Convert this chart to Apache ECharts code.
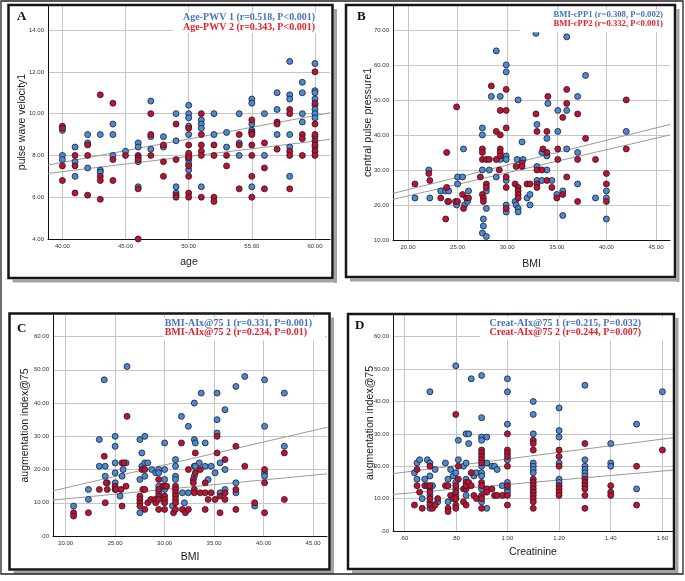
<!DOCTYPE html>
<html><head><meta charset="utf-8">
<script src="https://cdn.jsdelivr.net/npm/echarts@6/dist/echarts.min.js"></script>
<style>html,body{margin:0;padding:0;background:#fff}#c{width:685px;height:581px}</style>
</head><body><div id="c"></div>
<script>
// ---------- tick labels ----------
const ticksA_x = [40, 45, 50, 55, 60];
const ticksA_y = [4, 6, 8, 10, 12, 14];
const ticksB_x = [20, 25, 30, 35, 40, 45];
const ticksB_y = [10, 20, 30, 40, 50, 60, 70];
const ticksC_x = [20, 25, 30, 35, 40, 45];
const ticksC_y = [0, 10, 20, 30, 40, 50, 60];
const ticksD_x = [0.6, 0.8, 1.0, 1.2, 1.4, 1.6];
const ticksD_y = [0, 10, 20, 30, 40, 50, 60];

// ---------- Panel A: age vs PWV ----------
const A_pwv1 = [
[40,9.2],[40,8.0],[40,7.8],[41,8.4],[41,7.7],[41,7.0],[42,9.0],[42,8.6],[42,7.4],
[43,9.0],[43,7.3],[43,7.2],[44,9.5],[44,9.0],[44,8.0],[45,8.2],
[46,8.6],[46,8.4],[46,7.7],[46,6.5],[47,10.6],[47,8.9],[47,8.3],[48,8.9],[48,8.4],
[49,10.0],[49,8.7],[49,6.5],[49,6.2],
[50,10.4],[50,10.0],[50,9.8],[50,9.4],[50,9.0],[50,8.0],[50,7.9],[50,7.8],[50,7.6],[50,7.3],
[51,9.7],[51,9.5],[51,9.3],[51,6.5],[52,10.0],[52,9.0],[53,9.1],[53,8.4],
[54,10.0],[54,8.6],[54,8.0],[55,10.7],[55,10.5],[55,9.5],[55,9.2],[55,9.1],[55,6.5],
[56,10.0],[56,8.0],[57,11.0],[57,10.2],[57,9.0],
[58,12.5],[58,10.9],[58,10.7],[58,9.0],[58,8.4],[58,7.0],
[59,11.5],[59,11.0],[59,10.0],[59,9.6],
[60,12.4],[60,11.1],[60,11.0],[60,10.7],[60,10.4],[60,10.2],[60,10.0],[60,9.8],[60,8.9],[60,8.4]
];
const A_pwv2 = [
[40,9.4],[40,9.3],[40,7.5],[40,6.8],[41,8.0],[41,7.5],[41,6.2],[42,8.5],[42,8.0],[42,6.1],
[43,10.9],[43,7.0],[43,6.8],[43,5.9],[44,10.5],[44,7.8],[44,6.8],[45,8.0],
[46,8.0],[46,7.9],[46,7.8],[46,6.4],[46,4.0],[47,10.0],[47,9.0],[47,8.0],[48,8.5],[48,7.7],[48,7.0],
[49,9.5],[49,7.8],[49,6.1],[49,6.0],
[50,9.3],[50,8.5],[50,8.1],[50,7.9],[50,7.5],[50,7.0],[50,6.2],[50,6.0],
[51,10.0],[51,9.0],[51,8.5],[51,8.2],[51,8.0],[51,6.0],[52,8.5],[52,8.0],[52,6.0],[52,5.8],
[53,8.0],[53,7.5],[54,9.0],[54,8.5],[54,6.4],
[55,9.7],[55,9.1],[55,9.0],[55,8.5],[55,8.0],[55,7.0],[55,6.0],[56,8.6],[56,7.4],[56,6.4],
[57,9.6],[57,9.5],[57,8.3],[58,10.2],[58,10.0],[58,8.2],[58,8.0],[58,6.4],
[59,9.0],[59,8.8],[59,8.0],
[60,12.0],[60,10.5],[60,9.5],[60,9.0],[60,8.7],[60,8.5],[60,8.2],[60,8.0]
];
const A_fit1 = [[38.86,7.54],[61.19,10.04]];
const A_fit2 = [[38.86,7.14],[61.19,8.77]];

// ---------- Panel B: BMI vs cPP ----------
const B_cpp1 = [
[20.7,22],[22.1,30],[22.2,22],[23.3,24],[23.8,24],[24.1,24],[24.0,21],[25.0,28],[25.0,26],[24.9,20],
[25.5,28],[25.6,36],[25.7,20],[26.0,21],[26.1,24],[27.5,42],[27.5,40],[27.5,30],[27.6,16],[27.6,14],
[27.5,12],[27.9,11],[27.9,19],[27.9,24],[28.2,30],[28.4,51],[28.9,28],[28.9,64],[29.3,51],[29.3,33],
[29.9,60],[29.9,58],[29.9,34],[29.9,33],[29.9,27],[29.9,20],[29.9,18],[31.1,50],[31.0,33],[30.8,21],
[30.9,20],[31.1,19],[31.1,18],[31.5,38],[31.6,33],[32.0,22],[32.3,23],[32.3,20],[32.9,69],[33.0,43],
[33.0,31],[33.0,27],[33.5,27],[33.5,35],[34.0,39],[34.0,34],[34.0,30],[34.1,49],[34.5,27],[35.1,47],
[35.1,41],[35.0,23],[35.6,24],[35.6,17],[36.0,68],[36.0,47],[36.0,36],[37.1,51],[37.1,35],[37.1,26],
[37.9,57],[38.9,22],[40.0,24],[40.0,22],[40.0,16],[42.0,41]
];
const B_cpp2 = [
[20.7,26],[22.1,29],[22.2,27],[23.3,22],[23.9,35],[23.9,25],[23.8,16],[24.1,21],[24.9,48],[24.8,21],
[25.0,21],[25.5,23],[25.6,19],[25.9,22],[26.1,22],[27.3,28],[27.5,36],[27.5,35],[27.5,33],[27.5,23],
[27.6,22],[27.6,21],[27.9,26],[27.9,25],[27.9,33],[28.2,33],[28.4,54],[28.9,41],[28.9,33],[29.3,47],
[29.3,40],[29.3,36],[29.3,35],[29.3,34],[29.2,30],[29.9,53],[29.9,47],[29.9,42],[29.9,28],[29.9,25],
[29.9,19],[30.9,31],[30.8,26],[31.1,25],[31.1,24],[31.1,23],[31.1,22],[31.5,32],[31.5,31],[32.0,26],
[32.3,26],[32.9,46],[33.0,41],[33.0,30],[33.0,26],[33.0,25],[33.6,36],[33.5,30],[34.0,41],[34.0,35],
[34.0,27],[34.1,51],[34.5,25],[35.1,36],[35.1,33],[35.0,22],[35.6,45],[35.6,23],[36.0,53],[36.0,49],
[36.0,28],[37.1,46],[37.1,33],[37.1,21],[37.9,39],[38.9,33],[40.0,29],[40.0,26],[40.0,21],[42.0,50],[42.0,36]
];
const B_fit1 = [[18.49,23.3],[46.41,43.0]];
const B_fit2 = [[18.49,21.6],[46.41,40.0]];

// ---------- Panel C: BMI vs AIx@75 ----------
const C_aix1 = [
[20.8,9],[22.3,14],[22.3,11],[23.4,29],[23.4,21],[23.9,47],[24.0,21],[24.0,18],[24.2,16],[25.0,27],
[25.0,30],[25.0,22],[25.0,19],[25.0,16],[25.5,12],[25.7,18],[25.8,20],[26.1,22],[26.2,51],[27.5,29],
[27.5,17],[27.5,7],[27.7,25],[27.7,21],[28.0,30],[28.0,22],[28.3,22],[28.0,18],[28.7,20],[29.1,19],
[29.4,20],[29.4,19],[29.4,15],[29.4,13],[30.0,28],[30.0,20],[30.0,17],[30.0,14],[30.8,9],[31.1,23],
[31.1,21],[31.1,18],[31.1,17],[31.7,36],[31.8,13],[32.0,10],[32.4,33],[32.4,13],[33.0,40],[33.0,29],
[33.1,28],[33.0,21],[33.1,21],[33.0,18],[33.7,43],[33.5,22],[34.1,28],[34.1,21],[34.4,17],[34.7,21],
[35.1,19],[35.3,43],[35.3,35],[35.3,31],[35.6,22],[35.6,13],[36.1,38],[36.1,20],[36.1,14],[37.2,45],
[37.2,16],[37.2,13],[38.1,48],[39.1,9],[40.1,47],[40.1,33],[40.1,19],[40.1,18],[42.1,43],[42.1,27]
];
const C_aix2 = [
[20.8,7],[20.8,6],[22.3,7],[23.4,14],[23.9,24],[24.1,16],[24.0,10],[24.2,14],[25.0,15],[25.0,14],
[25.1,14],[25.6,14],[25.7,9],[25.7,22],[25.9,22],[26.1,15],[26.2,36],[27.5,12],[27.5,11],[27.5,10],
[27.5,9],[27.7,20],[27.8,14],[28.0,20],[28.0,14],[28.0,8],[28.3,10],[28.6,11],[29.0,11],[29.1,10],
[29.4,17],[29.4,14],[29.4,12],[29.4,11],[29.4,8],[29.8,15],[30.0,15],[30.0,12],[30.0,11],[30.0,10],
[30.0,8],[30.2,15],[30.9,7],[31.1,15],[31.1,14],[31.1,13],[31.1,12],[31.1,11],[31.1,10],[31.1,8],
[31.7,28],[31.8,8],[32.1,7],[32.4,20],[32.4,8],[33.1,25],[33.1,19],[32.9,17],[32.9,16],[33.0,14],
[33.0,13],[33.6,20],[33.6,13],[34.1,16],[34.1,13],[34.1,8],[34.4,11],[34.7,13],[35.1,11],[35.3,30],
[35.3,25],[35.6,12],[35.6,7],[36.1,23],[36.1,13],[36.1,11],[37.2,27],[37.2,14],[37.2,8],[38.1,21],
[39.1,10],[40.1,20],[40.1,16],[40.1,7],[42.1,25],[42.1,11]
];
const C_fit1 = [[18.72,13.6],[46.41,32.7]];
const C_fit2 = [[18.72,10.8],[46.41,18.7]];

// ---------- Panel D: Creatinine vs AIx@75 ----------
const D_aix1 = [
[0.64,18],[0.65,21],[0.65,16],[0.66,22],[0.67,10],[0.68,16],[0.69,22],[0.70,43],[0.70,21],[0.70,17],
[0.70,13],[0.70,11],[0.70,9],[0.70,7],[0.71,14],[0.72,19],[0.73,9],[0.76,21],[0.77,16],[0.77,9],
[0.78,19],[0.79,17],[0.80,51],[0.80,18],[0.80,15],[0.80,13],[0.80,11],[0.80,10],[0.81,28],[0.81,22],
[0.83,20],[0.84,11],[0.84,21],[0.84,30],[0.85,30],[0.85,27],[0.84,16],[0.86,47],[0.87,17],[0.88,18],
[0.90,48],[0.90,35],[0.90,29],[0.90,28],[0.90,20],[0.90,18],[0.90,17],[0.90,13],[0.90,9],[0.92,29],
[0.92,21],[0.92,7],[0.94,20],[0.95,20],[0.96,19],[0.98,14],[1.0,47],[1.0,43],[1.0,33],[1.0,22],
[1.0,15],[1.0,13],[1.0,12],[1.1,40],[1.1,36],[1.1,30],[1.1,21],[1.1,20],[1.1,19],[1.1,18],
[1.2,38],[1.2,31],[1.2,29],[1.2,21],[1.2,16],[1.2,15],[1.3,45],[1.3,22],[1.3,20],[1.3,19],
[1.3,18],[1.3,17],[1.4,27],[1.4,21],[1.4,20],[1.5,33],[1.5,13],[1.6,43]
];
const D_aix2 = [
[0.64,8],[0.65,19],[0.65,14],[0.66,12],[0.67,7],[0.68,14],[0.69,14],[0.70,20],[0.70,14],[0.70,12],
[0.70,10],[0.70,8],[0.71,7],[0.72,8],[0.73,10],[0.76,14],[0.77,14],[0.77,7],[0.77,6],[0.78,11],
[0.79,10],[0.80,36],[0.80,14],[0.80,12],[0.80,10],[0.80,8],[0.80,7],[0.81,20],[0.81,16],[0.83,13],
[0.83,9],[0.84,15],[0.84,8],[0.84,13],[0.84,14],[0.85,15],[0.86,14],[0.86,18],[0.87,11],[0.88,10],
[0.90,25],[0.90,24],[0.90,23],[0.90,22],[0.90,21],[0.90,15],[0.90,14],[0.90,11],[0.90,10],[0.90,7],
[0.92,13],[0.92,12],[0.94,13],[0.95,11],[0.96,11],[0.98,11],[1.0,30],[1.0,25],[1.0,24],[1.0,23],
[1.0,20],[1.0,14],[1.0,11],[1.0,8],[1.1,28],[1.1,27],[1.1,25],[1.1,16],[1.1,15],[1.1,14],
[1.1,13],[1.1,12],[1.1,11],[1.1,10],[1.1,9],[1.1,7],[1.2,25],[1.2,23],[1.2,20],[1.2,14],
[1.2,13],[1.2,12],[1.2,11],[1.3,27],[1.3,16],[1.3,15],[1.3,14],[1.3,13],[1.3,11],[1.3,7],
[1.4,14],[1.4,12],[1.4,11],[1.5,20],[1.5,8],[1.6,25]
];
const D_fit1 = [[0.557,17.7],[1.641,28.8]];
const D_fit2 = [[0.557,11.3],[1.641,18.8]];

// ---------- texts ----------
const panelLetters = ['A', 'B', 'C', 'D'];
const legendBlue = ['Age-PWV 1 (r=0.518, P<0.001)', 'BMI-cPP1 (r=0.308, P=0.002)', 'BMI-AIx@75 1 (r=0.331, P=0.001)', 'Creat-AIx@75 1 (r=0.215, P=0.032)'];
const legendRed = ['Age-PWV 2 (r=0.343, P<0.001)', 'BMI-cPP2 (r=0.332, P<0.001)', 'BMI-AIx@75 2 (r=0.234, P=0.01)', 'Creat-AIx@75 2 (r=0.244, P=0.007)'];
const xNames = ['age', 'BMI', 'BMI', 'Creatinine'];
const yNames = ['pulse wave velocity1', 'central pulse pressure1', 'augmentation index@75', 'augmentation index@75'];

// ---------- layout ----------
const BLUE = '#4a8bd6', RED = '#c4102c', EDGE = '#1c1c2a';
const grids = [
  {left: 48, top: 5, width: 282, height: 234},
  {left: 393, top: 5, width: 277, height: 235},
  {left: 53, top: 315, width: 274, height: 221},
  {left: 393, top: 315, width: 280, height: 216}
];
const xExt = [[38.86, 61.19], [18.49, 46.41], [18.72, 46.41], [0.557, 1.641]];
const yExt = [[4, 15.2], [10, 77.1], [0, 66.5], [0, 66.7]];
const xTicks = [ticksA_x, ticksB_x, ticksC_x, ticksD_x];
const yTicks = [ticksA_y, ticksB_y, ticksC_y, ticksD_y];
const xGap = [18, 19, 16, 16];
const yGap = [20, 19, 22, 17];

function fmt(v) { let s = Number(v).toFixed(2); if (s.startsWith('0.')) s = s.slice(1); return s; }

function axisBase(ticks, ext, name, gap) {
  return {
    type: 'value', min: ext[0], max: ext[1], name: name, nameLocation: 'middle', nameGap: gap,
    nameMoveOverlap: false,
    nameTextStyle: {fontFamily: 'Liberation Sans', fontSize: 10.5, color: '#1a1a1a'},
    axisLine: {show: true, onZero: false, lineStyle: {color: '#111', width: 1}},
    axisTick: {show: false, customValues: ticks},
    axisLabel: {show: true, customValues: ticks, formatter: fmt, fontFamily: 'Liberation Sans', fontSize: 6, color: '#333', margin: 4},
    splitLine: {show: true, lineStyle: {color: '#c6c6c6', width: 1}}
  };
}

const xAxis = [], yAxis = [], series = [];
const sets = [[A_pwv1, A_pwv2, A_fit1, A_fit2], [B_cpp1, B_cpp2, B_fit1, B_fit2], [C_aix1, C_aix2, C_fit1, C_fit2], [D_aix1, D_aix2, D_fit1, D_fit2]];
for (let i = 0; i < 4; i++) {
  xAxis.push(Object.assign(axisBase(xTicks[i], xExt[i], xNames[i], xGap[i]), {gridIndex: i}));
  yAxis.push(Object.assign(axisBase(yTicks[i], yExt[i], yNames[i], yGap[i]), {gridIndex: i}));
  const [b, r, f1, f2] = sets[i];
  [f1, f2].forEach(f => series.push({type: 'line', xAxisIndex: i, yAxisIndex: i, data: f, symbol: 'none', showSymbol: false, silent: true, z: 2,
    lineStyle: {color: '#9a9a9a', width: 1}}));
  [[b, BLUE], [r, RED]].forEach(([d, c]) => series.push({type: 'scatter', xAxisIndex: i, yAxisIndex: i, data: d, symbol: 'circle', symbolSize: 6, silent: true, z: 3,
    itemStyle: {color: c, borderColor: EDGE, borderWidth: 0.8, opacity: 1}}));
}

// legends (as titles with white background) and panel letters
const legendPos = [
  {right: 355, top: 12, padding: [0, 15, 1, 10], fs: 10, lh: 10},
  {right: 15, top: 10, padding: [1, 7, 4, 33], fs: 8.7, lh: 8.5},
  {right: 360, top: 318, padding: [1, 13, 3, 1], fs: 10, lh: 9},
  {right: 12, top: 318, padding: [1, 32, 3, 9], fs: 10, lh: 9}
];
const letterPos = [{left: 17, top: 10}, {left: 357, top: 10}, {left: 17, top: 322}, {left: 355, top: 319}];
const title = [];
for (let i = 0; i < 4; i++) {
  const p = legendPos[i];
  const st = c => ({color: c, fontFamily: 'Liberation Serif', fontWeight: 'bold', fontSize: p.fs, lineHeight: p.lh});
  title.push({text: '{b|' + legendBlue[i] + '}\n{r|' + legendRed[i] + '}', right: p.right, top: p.top, padding: p.padding,
    backgroundColor: '#fff', textStyle: {rich: {b: st('#4472c4'), r: st('#e3202b')}}});
  title.push({text: panelLetters[i], left: letterPos[i].left, top: letterPos[i].top, padding: 0,
    textStyle: {fontFamily: 'Liberation Serif', fontWeight: 'bold', fontSize: 13, lineHeight: 14, color: '#111'}});
}

// frames with shadows
const frames = [[8.5, 5, 324, 273], [346, 5, 329, 272], [9.5, 313.5, 320, 256], [348, 314, 326, 255]];
const graphic = [];
frames.forEach(([x, y, w, h]) => {
  graphic.push({type: 'rect', silent: true, z: 10, shape: {x: x + w + 1.5, y: y + 4, width: 3, height: h + 1}, style: {fill: '#a3a3a3'}});
  graphic.push({type: 'rect', silent: true, z: 10, shape: {x: x + 4, y: y + h + 1.5, width: w, height: 3}, style: {fill: '#a3a3a3'}});
  graphic.push({type: 'rect', silent: true, z: 11, shape: {x: x, y: y, width: w, height: h}, style: {fill: 'none', stroke: '#151515', lineWidth: 2.5}});
});
graphic.push({type: 'rect', silent: true, z: 11, shape: {x: 1, y: 1, width: 682, height: 573}, style: {fill: 'none', stroke: '#222', lineWidth: 1.3}});

const chart = echarts.init(document.getElementById('c'), null, {renderer: 'canvas'});
chart.setOption({
  animation: false,
  backgroundColor: '#fff',
  grid: grids.map(g => Object.assign({containLabel: false, outerBoundsMode: 'none'}, g)),
  xAxis, yAxis, series, title, graphic
});
</script></body></html>
